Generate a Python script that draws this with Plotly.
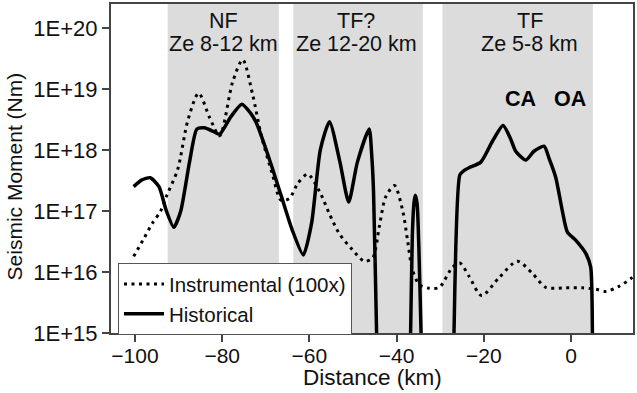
import plotly.graph_objects as go

# ---- data ----
hist_x = [-100.3, -98.5, -96.5, -94.5, -92.8, -91.1, -89.5, -87.5, -85.8, -84.1, -82.0, -80.6,
          -78.0, -75.5, -73.5, -72.2, -69.2, -66.5, -64.0, -61.4, -59.5, -57.5, -55.4, -53.0,
          -51.0, -49.0, -46.3, -45.7, -45.3, -44.6, -44.4,
          -37.0, -36.8, -36.4, -36.0, -35.7, -35.3, -34.9, -34.4, -34.2,
          -27.0, -26.85, -25.5, -24.5, -23.4, -20.7, -18.0, -15.6, -14.0, -12.7, -10.4, -8.5,
          -6.2, -5.0, -3.5, -2.0, -0.85, 1.1, 3.4, 4.5, 4.9, 5.0]
hist_y = [2.5e17, 3.2e17, 3.5e17, 2.5e17, 1.0e17, 5.4e16, 1.0e17, 6.3e17, 2.2e18, 2.3e18, 2.0e18, 1.8e18,
          3.5e18, 5.6e18, 4.0e18, 2.8e18, 7.1e17, 1.8e17, 5.0e16, 1.9e16, 6.3e16, 1.0e18, 2.9e18, 6.3e17,
          1.4e17, 6.3e17, 2.2e18, 7.9e17, 2.1e17, 1.0e15, 3.2e14,
          3.2e14, 1.0e15, 4.0e16, 1.4e17, 1.8e17, 1.3e17, 2.5e16, 1.0e15, 3.2e14,
          3.2e14, 1.0e15, 3.9e17, 4.6e17, 5.1e17, 6.3e17, 1.4e18, 2.5e18, 1.6e18, 9.5e17, 6.8e17, 9.5e17,
          1.15e18, 7.1e17, 3.5e17, 1.0e17, 4.5e16, 3.3e16, 2.0e16, 1.2e16, 1.0e15, 3.2e14]

inst_x = [-100.3, -98.0, -96.0, -94.1, -92.7, -90.2, -87.9, -85.4, -82.9, -80.6, -77.6, -75.3,
          -73.0, -71.1, -68.5, -66.5, -64.6, -62.7, -60.4, -57.7, -55.4, -53.2, -50.1, -47.4,
          -45.5, -44.0, -42.5, -40.5, -38.6, -37.5, -36.4, -34.8, -32.5, -30.2, -27.2, -25.5,
          -23.4, -20.5, -16.5, -12.3, -8.9, -5.8, -1.2, 2.6, 5.7, 8.0, 11.0, 14.0, 15.0]
inst_y = [1.8e16, 3.5e16, 6.3e16, 1.0e17, 1.8e17, 4.8e17, 3.0e18, 8.5e18, 3.4e18, 1.7e18, 1.3e19, 3.0e19,
          7.9e18, 1.8e18, 4.0e17, 1.5e17, 1.6e17, 2.8e17, 4.0e17, 2.1e17, 8.9e16, 4.3e16, 2.3e16, 1.5e16,
          1.7e16, 5.4e16, 1.7e17, 2.6e17, 1.0e17, 3.3e16, 1.1e16, 6.2e15, 5.4e15, 5.6e15, 1.2e16, 1.4e16,
          8.5e15, 4.1e15, 8.1e15, 1.5e16, 9.5e15, 5.6e15, 5.5e15, 5.5e15, 5.2e15, 4.8e15, 5.8e15, 8.1e15, 9.5e15]

zones = [(-92.5, -67.0), (-63.7, -34.0), (-29.5, 5.0)]
zone_titles = ["NF", "TF?", "TF"]
zone_sub = ["Ze 8-12 km", "Ze 12-20 km", "Ze 5-8 km"]
zone_label_x = [-79.75, -49.3, -9.5]

y_tickvals = [1e15, 1e16, 1e17, 1e18, 1e19, 1e20]
y_ticktext = ["1E+15", "1E+16", "1E+17", "1E+18", "1E+19", "1E+20"]
x_tickvals = [-100, -80, -60, -40, -20, 0]

FONT = "Liberation Sans, Arial, sans-serif"

fig = go.Figure()
fig.add_trace(go.Scatter(x=inst_x, y=inst_y, mode="lines", name="Instrumental (100x)",
                         line=dict(color="black", width=3, dash="3px,4.5px", shape="spline", smoothing=0.8)))
fig.add_trace(go.Scatter(x=hist_x, y=hist_y, mode="lines", name="Historical",
                         line=dict(color="black", width=3.5, shape="spline", smoothing=0.6)))

for (a, b) in zones:
    fig.add_shape(type="rect", xref="x", yref="paper", x0=a, x1=b, y0=0, y1=1,
                  fillcolor="#dcdcdc", line_width=0, layer="below")

for t, s, xc in zip(zone_titles, zone_sub, zone_label_x):
    fig.add_annotation(x=xc, xref="x", y=0.947, yref="paper", text=t, showarrow=False,
                       xanchor="center", yanchor="middle",
                       font=dict(family=FONT, size=21.5, color="#111"))
    fig.add_annotation(x=xc, xref="x", y=0.877, yref="paper", text=s, showarrow=False,
                       xanchor="center", yanchor="middle",
                       font=dict(family=FONT, size=21.5, color="#111"))

fig.add_annotation(x=-11.5, xref="x", y=0.712, yref="paper", text="<b>CA</b>", showarrow=False,
                   xanchor="center", yanchor="middle",
                   font=dict(family=FONT, size=21.5, color="black"))
fig.add_annotation(x=-0.2, xref="x", y=0.712, yref="paper", text="<b>OA</b>", showarrow=False,
                   xanchor="center", yanchor="middle",
                   font=dict(family=FONT, size=21.5, color="black"))

# axis titles
fig.add_annotation(x=0.5, xref="paper", y=-0.134, yref="paper", text="Distance (km)", showarrow=False,
                   xanchor="center", yanchor="middle",
                   font=dict(family=FONT, size=22.5, color="#111"))
fig.add_annotation(x=-0.1845, xref="paper", y=0.475, yref="paper", text="Seismic Moment (Nm)",
                   showarrow=False, textangle=-90, xanchor="center", yanchor="middle",
                   font=dict(family=FONT, size=21, color="#111"))

fig.update_layout(
    width=637, height=393,
    margin=dict(l=111, r=3, t=2, b=60),
    paper_bgcolor="white", plot_bgcolor="white",
    font=dict(family=FONT, size=20, color="#111"),
    showlegend=True,
    legend=dict(x=0.0134, y=0.212, xanchor="left", yanchor="top",
                bgcolor="white", bordercolor="#555", borderwidth=1,
                font=dict(family=FONT, size=20.5, color="#111"),
                itemwidth=40, tracegroupgap=0),
    xaxis=dict(range=[-105.5, 14.2], tickvals=x_tickvals, ticks="outside", ticklen=7,
               tickcolor="#444", tickwidth=1.5, showline=True, linecolor="#444", linewidth=2,
               mirror=True, showgrid=False, zeroline=False, ticklabelstandoff=-4,
               tickfont=dict(family=FONT, size=21, color="#111")),
    yaxis=dict(type="log", range=[15, 20.39], tickvals=y_tickvals, ticktext=y_ticktext,
               ticks="outside", ticklen=7, tickcolor="#444", tickwidth=1.5,
               showline=True, linecolor="#444", linewidth=2, mirror=True,
               showgrid=False, zeroline=False,
               tickfont=dict(family=FONT, size=22, color="#111")),
)

fig.write_html("out.html")
